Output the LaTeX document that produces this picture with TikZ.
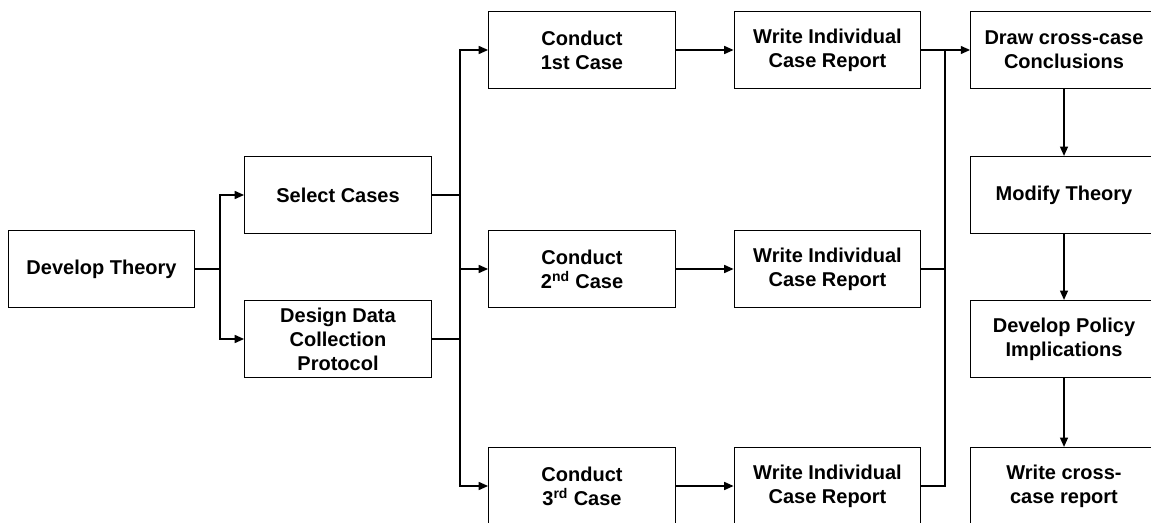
\documentclass[tikz,border=0pt]{standalone}
\usepackage{fontspec}
\setmainfont{Liberation Sans}
\usetikzlibrary{arrows.meta}
\tikzset{
  box/.style={draw, line width=0.9pt, minimum width=140pt, minimum height=57.75pt,
    inner sep=0pt, align=center, font=\bfseries\fontsize{15}{18}\selectfont},
  arr/.style={-{Triangle[length=7pt,width=6pt]}, line width=1pt},
  wire/.style={line width=1pt}
}
\begin{document}
\begin{tikzpicture}[x=0.75pt,y=-0.75pt]
  \useasboundingbox (0,0) rectangle (1151,523);

  \node[box] (theory) at (101.5,269) {Develop Theory};
  \node[box] (select) at (338,195) {Select Cases};
  \node[box] (design) at (338,339) {Design Data\\Collection\\Protocol};

  \node[box] (c1) at (582,50) {Conduct\\1st Case};
  \node[box] (c2) at (582,269) {Conduct\\2\textsuperscript{nd} Case};
  \node[box] (c3) at (582,486) {Conduct\\3\textsuperscript{rd} Case};
  \foreach \i/\y in {1/50,2/269,3/486}
    \node[box] (w\i) at (827.5,\y) {Write Individual\\Case Report};

  \node[box] (cross) at (1064,50) {Draw cross-case\\Conclusions};
  \node[box] (modify) at (1064,195) {Modify Theory};
  \node[box] (policy) at (1064,339) {Develop Policy\\Implications};
  \node[box] (report) at (1064,486) {Write cross-\\case report};

  \coordinate (fork) at (220,269);
  \coordinate (hub) at (460,269);
  \coordinate (join) at (945,269);

  \draw[wire] (theory.east) -- (fork);
  \draw[arr] (fork) |- (select.west);
  \draw[arr] (fork) |- (design.west);

  \draw[wire] (select.east) -- (select.east -| hub);
  \draw[wire] (design.east) -- (design.east -| hub);
  \draw[arr] (hub) |- (c1.west);
  \draw[arr] (hub) -- (c2.west);
  \draw[arr] (hub) |- (c3.west);

  \foreach \i in {1,2,3}
    \draw[arr] (c\i.east) -- (w\i.west);

  \draw[wire] (w2.east) -- (join);
  \draw[wire] (w3.east) -| (join) |- (w1.east);
  \draw[arr] (w1.east) -- (cross.west);

  \draw[arr] (cross.south) -- (modify.north);
  \draw[arr] (modify.south) -- (policy.north);
  \draw[arr] (policy.south) -- (report.north);
\end{tikzpicture}
\end{document}
